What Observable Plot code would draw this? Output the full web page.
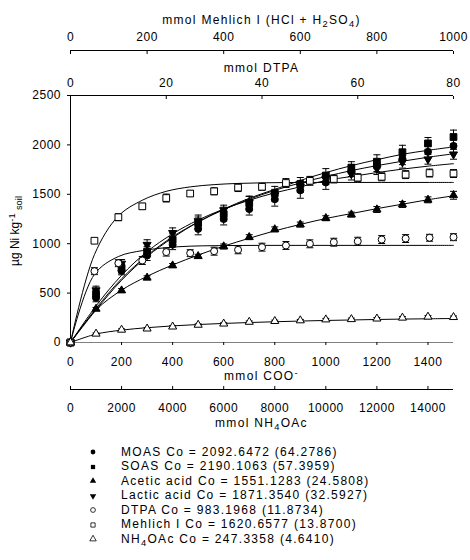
<!DOCTYPE html>
<html><head><meta charset="utf-8">
<script src="https://cdn.jsdelivr.net/npm/d3@7"></script>
<script src="https://cdn.jsdelivr.net/npm/@observablehq/plot@0.6"></script>
<style>
body{margin:0;background:#fff;font-family:"Liberation Sans",Arial,sans-serif;color:#000;}
#wrap{position:relative;width:470px;height:560px;overflow:hidden;background:#fff;}
#wrap svg.layer{position:absolute;left:0;top:0;}
.t{position:absolute;left:70px;width:383px;text-align:center;font-size:12px;letter-spacing:1.3px;line-height:14px;height:14px;white-space:nowrap;}
.t sub,.yl sub{font-size:0.78em;vertical-align:-0.3em;line-height:0;}
.t sup,.yl sup{font-size:0.78em;vertical-align:0.45em;line-height:0;}
.yl{position:absolute;left:15px;top:231px;transform:translate(-50%,-50%) rotate(-90deg);font-size:12px;white-space:nowrap;line-height:14px;}
.lg{position:absolute;left:0;width:470px;height:14.5px;line-height:14.5px;font-size:12px;letter-spacing:1.3px;white-space:nowrap;}
.lg svg{position:absolute;left:88px;top:2.25px;}
.lg span{position:absolute;left:121px;top:0;}
.lg sub{font-size:0.78em;vertical-align:-0.3em;line-height:0;}
</style>
</head><body>
<div id="wrap"></div>
<script>
// ---------- x positions of the measurements (own units of each extractant) ----------
const cooX = [0,100,200,300,400,500,600,700,800,900,1000,1100,1200,1300,1400,1500];
const dtpaX = [0,5,10,15,20,25,30,35,40,45,50,55,60,65,70,75,80];
const mehlichX = [0,62.5,125,187.5,250,312.5,375,437.5,500,562.5,625,687.5,750,812.5,875,937.5,1000];
const nh4oacX = [0,1000,2000,3000,4000,5000,6000,7000,8000,9000,10000,11000,12000,13000,14000,15000];

// ---------- measured Ni (µg/kg) and error bars ----------
const moasY   = [0,452,725,880,990,1150,1250,1350,1450,1540,1620,1740,1790,1860,1930,1990];
const moasErr = [0,40,40,50,50,60,60,60,70,80,70,60,60,60,60,70];
const soasY   = [0,493,755,920,1040,1210,1300,1410,1510,1600,1690,1770,1830,1926,2015,2080];
const soasErr = [0,50,50,50,60,60,70,70,70,70,70,60,70,70,60,70];
const aceticY   = [0,340,526,655,779,873,972,1066,1145,1194,1258,1295,1346,1397,1444,1490];
const aceticErr = [0,15,20,20,20,20,25,25,25,25,25,25,30,30,30,40];
const lacticY   = [0,530,800,990,1110,1230,1340,1420,1490,1580,1660,1705,1760,1825,1855,1905];
const lacticErr = [0,40,40,50,50,60,50,60,60,60,60,60,60,60,50,50];
const dtpaY   = [0,722,803,830,915,904,924,938,965,982,999,1015,1025,1042,1052,1060,1066];
const dtpaErr = [0,35,35,40,40,35,40,40,40,40,40,40,40,40,40,35,35];
const mehlichY   = [0,1030,1268,1378,1462,1508,1530,1568,1576,1614,1636,1655,1668,1677,1699,1715,1710];
const mehlichErr = [0,20,35,30,40,30,35,40,35,45,45,40,40,40,40,40,40];
const nh4oacY   = [0,88,128,140,160,178,190,208,216,223,232,235,241,250,260,256];
const nh4oacErr = [0,8,10,10,10,10,10,10,10,10,12,12,12,12,12,12];

const moasFit    = [0,345,645,880,1070,1220,1345,1450,1540,1615,1680,1740,1790,1835,1875,1910];
const soasFit    = [0,330,630,870,1060,1220,1350,1460,1550,1640,1720,1790,1850,1905,1945,1980];
const aceticFit  = [0,330,530,670,785,885,975,1055,1130,1195,1255,1305,1355,1400,1445,1485];
const lacticFit  = [0,370,680,920,1100,1240,1350,1440,1515,1575,1640,1680,1720,1755,1785,1810];
const dtpaFit    = [0,690,870,930,960,975,980,982,983,983,983,983,983,983,983,983,983];
const mehlichFit = [0,890,1280,1440,1530,1575,1598,1610,1616,1619,1620,1620,1620,1620,1620,1620,1620];
const nh4oacFit  = [0,85,125,150,168,182,193,202,210,217,223,228,233,237,240,243];

// ---------- ticks ----------
const yTicks = [0,500,1000,1500,2000,2500];
const cooTicks = [0,200,400,600,800,1000,1200,1400];
const nh4oacTicks = [0,2000,4000,6000,8000,10000,12000,14000];
const mehlichTicks = [0,200,400,600,800,1000];
const dtpaTicks = [0,20,40,60,80];

// ---------- legend ----------
const legendLabels = [
  "MOAS Co = 2092.6472 (64.2786)",
  "SOAS Co = 2190.1063 (57.3959)",
  "Acetic acid Co = 1551.1283 (24.5808)",
  "Lactic acid Co = 1871.3540 (32.5927)",
  "DTPA Co = 983.1968 (11.8734)",
  "Mehlich I Co = 1620.6577 (13.8700)",
  "NH<sub>4</sub>OAc Co = 247.3358 (4.6410)"
];

// ---------- helpers ----------
const cap = {draw(ctx){ctx.moveTo(-3.5,0);ctx.lineTo(3.5,0);}};
const triDown = {draw(ctx,size){const s3=Math.sqrt(3);const y=-Math.sqrt(size/(s3*3));ctx.moveTo(0,-y*2);ctx.lineTo(-s3*y,y);ctx.lineTo(s3*y,y);ctx.closePath();}};
const rows = (xs, ys, es) => xs.map((x,i)=>({x, y: ys[i], e: es ? es[i] : 0}));

function lineMark(xs, fit){
  return Plot.line(rows(xs, fit), {x:"x", y:"y", curve:"catmull-rom", stroke:"black", strokeWidth:1});
}
function barMarks(xs, ys, es){
  const b = rows(xs, ys, es).filter(d=>d.e>0);
  return [
    Plot.ruleX(b, {x:"x", y1:d=>d.y-d.e, y2:d=>d.y+d.e, stroke:"black", strokeWidth:1}),
    Plot.dot(b, {x:"x", y:d=>d.y+d.e, symbol:cap, fill:"none", stroke:"black", strokeWidth:1}),
    Plot.dot(b, {x:"x", y:d=>d.y-d.e, symbol:cap, fill:"none", stroke:"black", strokeWidth:1})
  ];
}
function dotMark(xs, ys, symbol, filled, r){
  return Plot.dot(rows(xs, ys), {x:"x", y:"y", symbol, r, fill: filled ? "black" : "white", stroke:"black", strokeWidth:1});
}

const W = 470, H = 432;
const style = {background:"none", fontFamily:"'Liberation Sans', Arial, sans-serif", fontSize:"12px", letterSpacing:"0.5px", color:"black", overflow:"visible"};
const base = {width:W, height:H, marginLeft:70, marginRight:17, marginTop:95, marginBottom:90, style};
const fmt = d => String(d);

const wrap = document.getElementById("wrap");
function add(svg){ svg.classList.add("layer"); wrap.appendChild(svg); }

// main plot: mmol COO- scale
add(Plot.plot({...base,
  x:{domain:[0,1500]},
  y:{domain:[0,2500]},
  marks:[
    Plot.ruleY([0], {stroke:"#808080"}),
    Plot.ruleY([2500], {stroke:"black"}),
    Plot.ruleX([0], {stroke:"black"}),
    Plot.axisY({ticks:yTicks, tickSize:3, tickPadding:6.5, tickFormat:fmt, label:null}),
    Plot.axisX({anchor:"bottom", ticks:cooTicks, tickSize:3, tickPadding:11.5, tickFormat:fmt, label:null}),
    lineMark(cooX, aceticFit), lineMark(cooX, lacticFit), lineMark(cooX, moasFit), lineMark(cooX, soasFit),
    ...barMarks(cooX, aceticY, aceticErr), ...barMarks(cooX, lacticY, lacticErr),
    ...barMarks(cooX, moasY, moasErr), ...barMarks(cooX, soasY, soasErr),
    dotMark(cooX, aceticY, "triangle", true, 3),
    dotMark(cooX, lacticY, triDown, true, 3),
    dotMark(cooX, moasY, "circle", true, 3.5),
    dotMark(cooX, soasY, "square", true, 3.8)
  ]
}));

// Mehlich I series
add(Plot.plot({...base,
  x:{domain:[0,1000], axis:null},
  y:{domain:[0,2500], axis:null},
  marks:[ lineMark(mehlichX, mehlichFit), ...barMarks(mehlichX, mehlichY, mehlichErr), dotMark(mehlichX, mehlichY, "square", false, 3.8) ]
}));

// DTPA series + DTPA axis on top of frame
add(Plot.plot({...base,
  x:{domain:[0,80]},
  y:{domain:[0,2500], axis:null},
  marks:[
    Plot.axisX({anchor:"top", ticks:dtpaTicks, tickSize:-3, tickPadding:12, tickFormat:fmt, label:null}),
    lineMark(dtpaX, dtpaFit), ...barMarks(dtpaX, dtpaY, dtpaErr), dotMark(dtpaX, dtpaY, "circle", false, 3.5)
  ]
}));

// NH4OAc series
add(Plot.plot({...base,
  x:{domain:[0,15000], axis:null},
  y:{domain:[0,2500], axis:null},
  marks:[ lineMark(nh4oacX, nh4oacFit), ...barMarks(nh4oacX, nh4oacY, nh4oacErr), dotMark(nh4oacX, nh4oacY, "triangle", false, 3) ]
}));

// Mehlich axis (top)
add(Plot.plot({width:W, height:H, marginLeft:70, marginRight:17, marginTop:50, marginBottom:H-55, style,
  x:{domain:[0,1000]},
  y:{domain:[0,1], axis:null},
  marks:[
    Plot.ruleY([1], {stroke:"black"}),
    Plot.axisX({anchor:"top", ticks:mehlichTicks, tickSize:-3, tickPadding:13, tickFormat:fmt, label:null})
  ]
}));

// NH4OAc axis (bottom)
add(Plot.plot({width:W, height:H, marginLeft:70, marginRight:17, marginTop:380, marginBottom:H-389, style,
  x:{domain:[0,15000]},
  y:{domain:[0,1], axis:null},
  marks:[
    Plot.ruleY([0], {stroke:"black"}),
    Plot.axisX({anchor:"bottom", ticks:nh4oacTicks, tickSize:-3, tickPadding:17, tickFormat:fmt, label:null})
  ]
}));

// axis titles
const titles = [
  ["mmol Mehlich I (HCl + H<sub>2</sub>SO<sub>4</sub>)", 20],
  ["mmol DTPA", 67.5],
  ["mmol COO<sup>-</sup>", 376],
  ["mmol NH<sub>4</sub>OAc", 423]
];
titles.forEach(([html, cy]) => {
  const d = document.createElement("div");
  d.className = "t"; d.style.top = (cy - 7) + "px"; d.innerHTML = html;
  wrap.appendChild(d);
});
const yl = document.createElement("div");
yl.className = "yl"; yl.innerHTML = "µg Ni kg<sup>-1</sup> <sub>soil</sub>";
wrap.appendChild(yl);

// legend
const legendSymbols = [
  [d3.symbolCircle, true], [d3.symbolSquare, true], [d3.symbolTriangle, true], [triDown, true],
  [d3.symbolCircle, false], [d3.symbolSquare, false], [d3.symbolTriangle, false]
];
legendLabels.forEach((lab, i) => {
  const row = document.createElement("div");
  row.className = "lg"; row.style.top = (444.75 + i*14.5) + "px";
  const [sym, filled] = legendSymbols[i];
  const s = d3.create("svg").attr("width",10).attr("height",10);
  s.append("path").attr("transform","translate(5,5)")
    .attr("d", d3.symbol(sym, 18)())
    .attr("fill", filled ? "black" : "white").attr("stroke","black").attr("stroke-width", filled ? 0 : 0.8);
  row.appendChild(s.node());
  const t = document.createElement("span"); t.innerHTML = lab; row.appendChild(t);
  wrap.appendChild(row);
});
</script>
</body></html>
